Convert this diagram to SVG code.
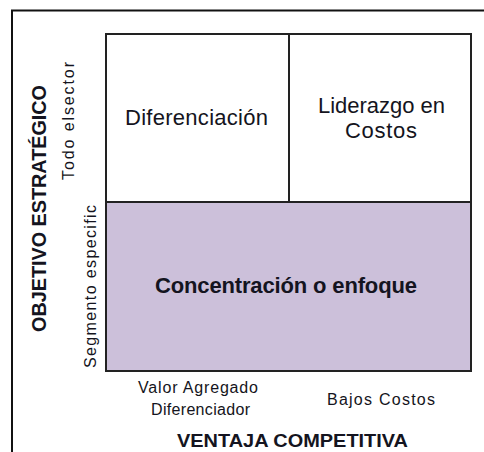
<svg xmlns="http://www.w3.org/2000/svg" width="484" height="452" viewBox="0 0 484 452">
<style>
  .cell{stroke:#222;stroke-width:2;}
  .lbl{font-family:"Liberation Sans",Arial,sans-serif;fill:#141420;}
  .big{font-size:22px;}
  .bold{font-weight:bold;}
  .small{font-size:16px;}
</style>
<rect x="0" y="0" width="484" height="452" fill="#ffffff"/>
<path d="M12,452 V10.5 H484" fill="none" stroke="#111" stroke-width="2"/>

<g id="diferenciacion">
  <rect class="cell" x="106" y="34" width="183" height="168" fill="#ffffff"/>
  <text class="lbl big" x="196.5" y="125" text-anchor="middle" textLength="143">Diferenciación</text>
</g>
<g id="liderazgo">
  <rect class="cell" x="289" y="34" width="182" height="168" fill="#ffffff"/>
  <text class="lbl big" x="381.5" y="113" text-anchor="middle" textLength="127">Liderazgo en</text>
  <text class="lbl big" x="381" y="138" text-anchor="middle" textLength="72">Costos</text>
</g>
<g id="concentracion">
  <rect class="cell" x="106" y="202" width="365" height="169" fill="#ccc0da"/>
  <text class="lbl big bold" x="286" y="293" text-anchor="middle" textLength="262">Concentración o enfoque</text>
</g>

<g id="eje-y">
  <text class="lbl bold" font-size="21" transform="translate(46,208.5) rotate(-90)" text-anchor="middle" textLength="247" lengthAdjust="spacingAndGlyphs">OBJETIVO ESTRATÉGICO</text>
  <text class="lbl small" transform="translate(74,121) rotate(-90)" text-anchor="middle" textLength="118">Todo elsector</text>
  <text class="lbl small" transform="translate(96,286.5) rotate(-90)" text-anchor="middle" textLength="163">Segmento especific</text>
</g>

<g id="eje-x">
  <text class="lbl small" x="198" y="393" text-anchor="middle" textLength="120">Valor Agregado</text>
  <text class="lbl small" x="200.5" y="415" text-anchor="middle" textLength="99">Diferenciador</text>
  <text class="lbl small" x="381" y="405" text-anchor="middle" textLength="108">Bajos Costos</text>
  <text class="lbl bold" font-size="19" x="292.5" y="447" text-anchor="middle" textLength="231" lengthAdjust="spacingAndGlyphs">VENTAJA COMPETITIVA</text>
</g>
</svg>
